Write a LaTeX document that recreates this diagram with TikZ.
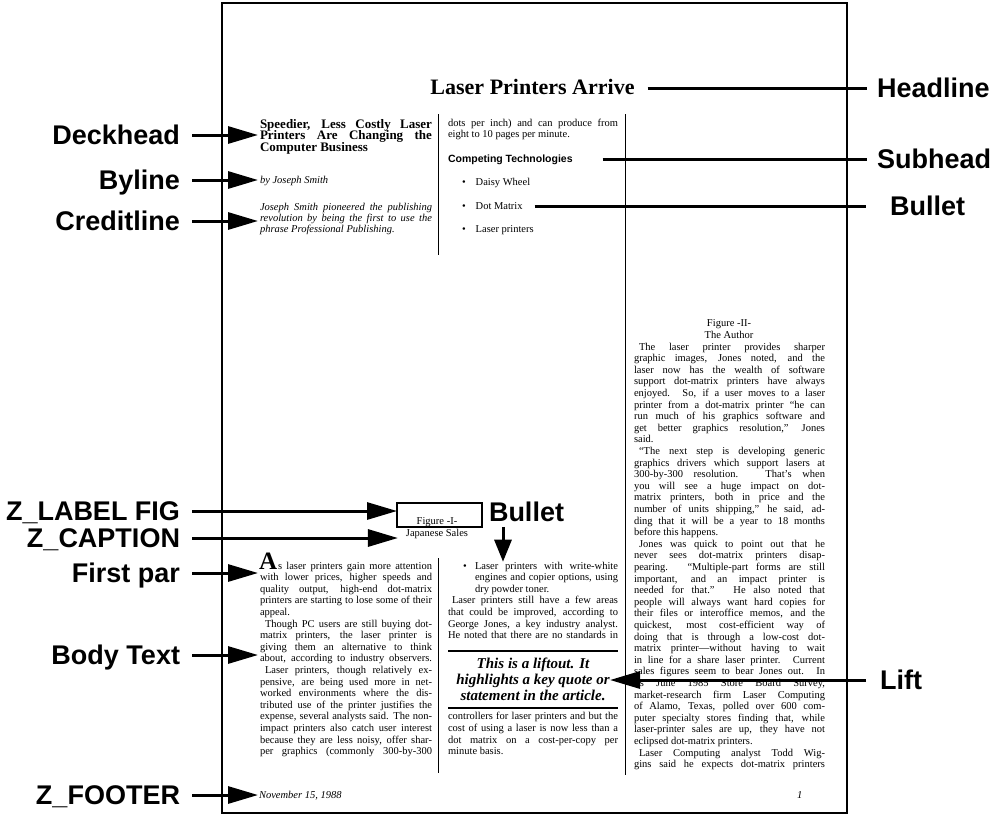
\documentclass[tikz,border=0pt]{standalone}
\usepackage{fontspec}
\setmainfont{Liberation Serif}
\newfontfamily\labfont{Liberation Sans}
\usetikzlibrary{arrows.meta,calc}

% one set line: justified, ragged, centred
\newcommand\jl[1]{\hbox to\hsize{#1}}
\newcommand\lastl[1]{\hbox to\hsize{#1\hfil}}
\newcommand\ctrl[1]{\hbox to\hsize{\hfil#1\hfil}}
% a column of set lines: width, leading, lines
\newcommand\colblock[3]{\vtop{\hsize=#1\baselineskip=#2\lineskiplimit=-1000pt\relax #3}}

\begin{document}
\begin{tikzpicture}[x=1pt,y=-1pt,
  every node/.style={inner sep=0pt,outer sep=0pt},
  lab/.style={font=\labfont\bfseries\fontsize{27}{27}\selectfont,text height=19.5pt,text depth=0pt},
  body/.style={font=\fontsize{10.5}{11.6}\selectfont,anchor=base west},
  ital/.style={font=\itshape\fontsize{10.5}{11.6}\selectfont,anchor=base west},
  conn/.style={line width=3pt},
  arr/.style={line width=3pt,-{Triangle[length=30pt,width=17pt]}},
  pageframe/.style={line width=2pt},
  sep/.style={line width=0.9pt},
  rulebar/.style={line width=2pt}]

\useasboundingbox (0,0) rectangle (1001,820);

% page frame and column rules
\draw[pageframe] (222,3) rectangle (847,813);
\draw[sep] (438,114) -- (438,255);
\draw[sep] (438,558) -- (438,773);
\draw[sep] (625,114) -- (625,775);

% headline
\node[font=\bfseries\fontsize{22}{22}\selectfont,anchor=base] (headline) at (532.5,94) {Laser Printers Arrive};

% left column, top
\node[font=\bfseries\fontsize{13}{11.6}\selectfont,anchor=base west] (deck) at (260,128) {\colblock{172pt}{11.6pt}{%
\jl{Speedier, Less Costly Laser}
\jl{Printers Are Changing the}
\lastl{Computer Business}}};
\node[ital] (byline) at (260,183) {by Joseph Smith};
\node[ital] (credit) at (260,210) {\colblock{172pt}{11.4pt}{%
\jl{Joseph Smith pioneered the publishing}
\jl{revolution by being the first to use the}
\lastl{phrase Professional Publishing.}}};

% middle column, top
\node[body] (contd) at (448,126.5) {\colblock{170pt}{11.4pt}{%
\jl{dots per inch) and can produce from}
\lastl{eight to 10 pages per minute.}}};
\node[font=\labfont\bfseries\fontsize{10.5}{12}\selectfont,anchor=base west] (subhead) at (448,162) {Competing Technologies};
\node[font=\fontsize{10.5}{12}\selectfont,anchor=base west] (bul1) at (462,185) {\textbullet\hspace{10pt}Daisy Wheel};
\node[font=\fontsize{10.5}{12}\selectfont,anchor=base west] (bul2) at (462,209) {\textbullet\hspace{10pt}Dot Matrix};
\node[font=\fontsize{10.5}{12}\selectfont,anchor=base west] (bul3) at (462,232) {\textbullet\hspace{10pt}Laser printers};

% figure I
\node[draw,line width=2pt,minimum width=85pt,minimum height=24pt] (figbox) at (439.5,515) {};
\node[body,anchor=base] (fig1) at (437,524) {Figure -I-};
\node[body,anchor=base] (cap1) at (437,536) {Japanese Sales};

% left column, body
\node[font=\bfseries\fontsize{25}{25}\selectfont,anchor=base west] (dropA) at (259,569) {A};
\node[body] (bodytext) at (260,569) {\colblock{172pt}{11.6pt}{%
\jl{\hspace*{18pt}s laser printers gain more attention}
\jl{with lower prices, higher speeds and}
\jl{quality output, high-end dot-matrix}
\jl{printers are starting to lose some of their}
\lastl{appeal.}
\jl{\hspace*{5pt}Though PC users are still buying dot-}
\jl{matrix printers, the laser printer is}
\jl{giving them an alternative to think}
\jl{about, according to industry observers.}
\jl{\hspace*{5pt}Laser printers, though relatively ex-}
\jl{pensive, are being used more in net-}
\jl{worked environments where the dis-}
\jl{tributed use of the printer justifies the}
\jl{expense, several analysts said. The non-}
\jl{impact printers also catch user interest}
\jl{because they are less noisy, offer shar-}
\jl{per graphics (commonly 300-by-300}}};

% middle column, body
\node[body] (bdot) at (463,569) {\textbullet};
\node[body] (bulitem) at (475,569) {\colblock{143pt}{11.6pt}{%
\jl{Laser printers with write-white}
\jl{engines and copier options, using}
\lastl{dry powder toner.}}};
\node[body] (midtext) at (448,603.8) {\colblock{170pt}{11.6pt}{%
\jl{\hspace*{4pt}Laser printers still have a few areas}
\jl{that could be improved, according to}
\jl{George Jones, a key industry analyst.}
\jl{He noted that there are no standards in}}};
\draw[rulebar] (448,651) -- (618,651);
\node[font=\bfseries\itshape\fontsize{15}{16}\selectfont,anchor=base west] (liftout) at (448,668) {\colblock{170pt}{16pt}{%
\ctrl{This is a liftout. It}
\ctrl{highlights a key quote or}
\ctrl{statement in the article.}}};
\draw[rulebar] (448,708) -- (618,708);
\node[body] (midend) at (448,719.8) {\colblock{170pt}{11.6pt}{%
\jl{controllers for laser printers and but the}
\jl{cost of using a laser is now less than a}
\jl{dot matrix on a cost-per-copy per}
\lastl{minute basis.}}};

% right column
\node[body,anchor=base] (fig2) at (729,326) {\colblock{90pt}{12pt}{%
\ctrl{Figure -II-}
\ctrl{The Author}}};
\node[body] (rightcol) at (634,350) {\colblock{191pt}{11.6pt}{%
\jl{\hspace*{5pt}The laser printer provides sharper}
\jl{graphic images, Jones noted, and the}
\jl{laser now has the wealth of software}
\jl{support dot-matrix printers have always}
\jl{enjoyed. So, if a user moves to a laser}
\jl{printer from a dot-matrix printer ``he can}
\jl{run much of his graphics software and}
\jl{get better graphics resolution,'' Jones}
\lastl{said.}
\jl{\hspace*{5pt}``The next step is developing generic}
\jl{graphics drivers which support lasers at}
\jl{300-by-300 resolution. That's when}
\jl{you will see a huge impact on dot-}
\jl{matrix printers, both in price and the}
\jl{number of units shipping,'' he said, ad-}
\jl{ding that it will be a year to 18 months}
\lastl{before this happens.}
\jl{\hspace*{5pt}Jones was quick to point out that he}
\jl{never sees dot-matrix printers disap-}
\jl{pearing. ``Multiple-part forms are still}
\jl{important, and an impact printer is}
\jl{needed for that.'' He also noted that}
\jl{people will always want hard copies for}
\jl{their files or interoffice memos, and the}
\jl{quickest, most cost-efficient way of}
\jl{doing that is through a low-cost dot-}
\jl{matrix printer---without having to wait}
\jl{in line for a share laser printer. Current}
\jl{sales figures seem to bear Jones out. In}
\jl{its June 1985 Store Board Survey,}
\jl{market-research firm Laser Computing}
\jl{of Alamo, Texas, polled over 600 com-}
\jl{puter specialty stores finding that, while}
\jl{laser-printer sales are up, they have not}
\lastl{eclipsed dot-matrix printers.}
\jl{\hspace*{5pt}Laser Computing analyst Todd Wig-}
\jl{gins said he expects dot-matrix printers}}};

% footer
\node[ital] (footer) at (259,798) {November 15, 1988};
\node[ital] (folio) at (797,798) {1};

% labels, left
\node[lab,anchor=east] (labDeck) at (180,135) {Deckhead};
\node[lab,anchor=east] (labBy) at (180,180) {Byline};
\node[lab,anchor=east] (labCredit) at (180,221) {Creditline};
\node[lab,anchor=east] (labFig) at (180,511) {Z\_LABEL FIG};
\node[lab,anchor=east] (labCap) at (180,538) {Z\_CAPTION};
\node[lab,anchor=east] (labFirst) at (180,573) {First par};
\node[lab,anchor=east] (labBody) at (180,655) {Body Text};
\node[lab,anchor=east] (labFoot) at (180,795) {Z\_FOOTER};

% labels, right and middle
\node[lab,anchor=west] (labHead) at (877,88) {Headline};
\node[lab,anchor=west] (labSub) at (877,159) {Subhead};
\node[lab,anchor=west] (labBul) at (890,206) {Bullet};
\node[lab,anchor=west] (labLift) at (880,680) {Lift};
\node[lab,anchor=west] (labBul2) at (489,512) {Bullet};

% connectors
\draw[arr] ($(labDeck.east)+(12,0)$) -- ($(labDeck.east -| deck.west)+(-2,0)$);
\draw[arr] ($(labBy.east)+(12,0)$) -- ($(labBy.east -| byline.west)+(-2,0)$);
\draw[arr] ($(labCredit.east)+(12,0)$) -- ($(labCredit.east -| credit.west)+(-2,0)$);
\draw[arr] ($(labFig.east)+(12,0)$) -- (labFig.east -| figbox.west);
\draw[arr] ($(labCap.east)+(12,0)$) -- ($(labCap.east -| cap1.west)+(-8,0)$);
\draw[arr] ($(labFirst.east)+(12,0)$) -- ($(labFirst.east -| dropA.west)+(-1,0)$);
\draw[arr] ($(labBody.east)+(12,0)$) -- ($(labBody.east -| bodytext.west)+(-2,0)$);
\draw[arr] ($(labFoot.east)+(12,0)$) -- ($(labFoot.east -| footer.west)+(-1,0)$);

\draw[conn] ($(labHead.west -| headline.east)+(13,0)$) -- ($(labHead.west)+(-10,0)$);
\draw[conn] ($(labSub.west -| subhead.east)+(30,0)$) -- ($(labSub.west)+(-10,0)$);
\draw[conn] ($(labBul.west -| bul2.east)+(12,0)$) -- ($(labBul.west)+(-24,0)$);
\draw[arr] ($(labLift.west)+(-14,0)$) -- ($(labLift.west -| liftout.east)+(-8,0)$);
\draw[line width=3pt,-{Triangle[length=22pt,width=17pt]}] ($(labBul2.south west)+(14,5)$) -- ($(labBul2.south west |- bulitem.north)+(14,0)$);
\end{tikzpicture}
\end{document}
